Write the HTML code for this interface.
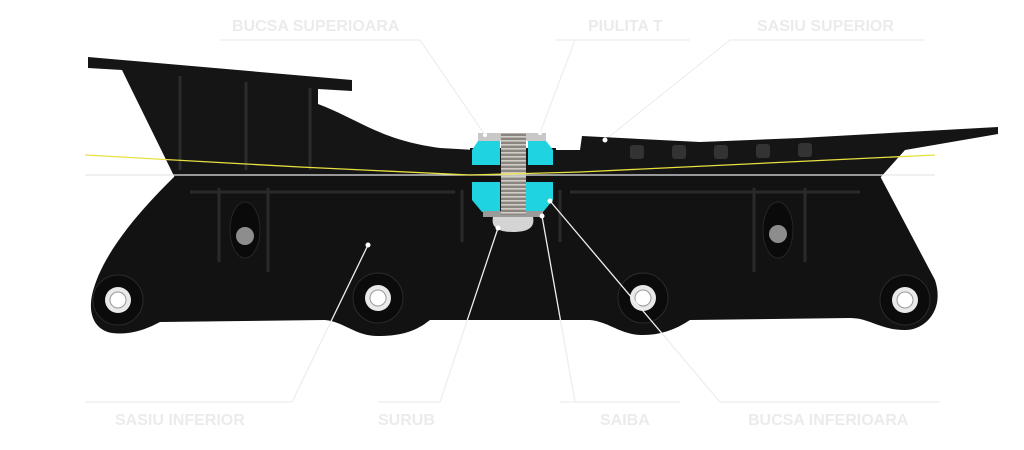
<!DOCTYPE html>
<html><head><meta charset="utf-8"><style>
html,body{margin:0;padding:0;background:#fff;width:1024px;height:450px;overflow:hidden}
svg text{font-family:"Liberation Sans",sans-serif;font-weight:bold;font-size:16px;fill:#ebebeb}
</style></head><body>
<svg width="1024" height="450" viewBox="0 0 1024 450" xmlns="http://www.w3.org/2000/svg">
<defs>
<pattern id="thr" width="6" height="4" patternUnits="userSpaceOnUse">
<rect width="6" height="4" fill="#8a8580"/><rect y="0" width="6" height="1.6" fill="#d0ccc6"/>
</pattern>
</defs>
<g stroke="#eeeeee" stroke-width="1.2" fill="none">
<polyline points="220,40 420,40 485,135"/>
<polyline points="555,40 690,40"/><line x1="575" y1="40" x2="540" y2="133"/>
<polyline points="925,40 730,40 605,140"/>
<polyline points="85,402 292,402"/>
<polyline points="378,402 440,402"/>
<polyline points="560,402 680,402"/>
<polyline points="720,402 940,402"/>
</g>
<g fill="#ebebeb">
<text x="232" y="31">BUCSA SUPERIOARA</text>
<text x="588" y="31">PIULITA T</text>
<text x="757" y="31">SASIU SUPERIOR</text>
<text x="115" y="425">SASIU INFERIOR</text>
<text x="378" y="425">SURUB</text>
<text x="600" y="425">SAIBA</text>
<text x="748" y="425">BUCSA INFERIOARA</text>
</g>
<path d="M88,57 L352,80 L352,91 L318,89 L318,104 C360,120 380,140 440,148 L475,150 L475,178 L175,178 L122,70 L88,68 Z" fill="#151515"/>
<g stroke="#2c2c2c" stroke-width="3"><line x1="180" y1="76" x2="180" y2="170"/><line x1="246" y1="82" x2="246" y2="170"/><line x1="310" y1="88" x2="310" y2="170"/></g>
<path d="M552,150 L580,150 L582,136 L700,142 L800,138 L998,127 L998,134 L905,150 L880,178 L552,178 Z" fill="#151515"/>
<rect x="470" y="148" width="86" height="36" fill="#151515"/>
<g fill="#333"><rect x="630" y="145" width="14" height="14" rx="3"/><rect x="672" y="145" width="14" height="14" rx="3"/><rect x="714" y="145" width="14" height="14" rx="3"/><rect x="756" y="144" width="14" height="14" rx="3"/><rect x="798" y="143" width="14" height="14" rx="3"/></g>
<path d="M175,176 L880,176 L935,280 C945,310 925,330 905,330 C880,330 870,318 850,318 L690,320 C675,330 660,335 643,335 C620,335 610,322 590,320 L430,320 C415,332 400,336 378,336 C355,336 345,322 325,320 L160,322 C145,330 130,335 112,333 C95,330 88,315 92,295 C100,260 130,220 175,176 Z" fill="#121212"/>
<g stroke="#2a2a2a" stroke-width="3" fill="none">
<line x1="190" y1="192" x2="455" y2="192"/><line x1="570" y1="192" x2="860" y2="192"/>
<line x1="219" y1="188" x2="219" y2="262"/><line x1="268" y1="188" x2="268" y2="272"/>
<line x1="462" y1="190" x2="462" y2="242"/><line x1="560" y1="190" x2="560" y2="242"/>
<line x1="754" y1="188" x2="754" y2="272"/><line x1="805" y1="188" x2="805" y2="262"/>
</g>
<ellipse cx="245" cy="230" rx="15" ry="28" fill="#0a0a0a" stroke="#262626"/>
<ellipse cx="778" cy="230" rx="15" ry="28" fill="#0a0a0a" stroke="#262626"/>
<circle cx="245" cy="236" r="9" fill="#8d8d8d"/><circle cx="778" cy="234" r="9" fill="#8d8d8d"/>
<g>
<circle cx="118" cy="300" r="25" fill="#0b0b0b" stroke="#2b2b2b"/><circle cx="118" cy="300" r="13" fill="#e9e9e9"/><circle cx="118" cy="300" r="8" fill="#fff" stroke="#999"/>
<circle cx="378" cy="298" r="25" fill="#0b0b0b" stroke="#2b2b2b"/><circle cx="378" cy="298" r="13" fill="#e9e9e9"/><circle cx="378" cy="298" r="8" fill="#fff" stroke="#999"/>
<circle cx="643" cy="298" r="25" fill="#0b0b0b" stroke="#2b2b2b"/><circle cx="643" cy="298" r="13" fill="#e9e9e9"/><circle cx="643" cy="298" r="8" fill="#fff" stroke="#999"/>
<circle cx="905" cy="300" r="25" fill="#0b0b0b" stroke="#2b2b2b"/><circle cx="905" cy="300" r="13" fill="#e9e9e9"/><circle cx="905" cy="300" r="8" fill="#fff" stroke="#999"/>
</g>
<rect x="478" y="133" width="68" height="8" fill="#c8c8c8"/>
<path d="M472,150 L478,141 L500,141 L500,165 L472,165 Z" fill="#1fd3e0"/>
<path d="M528,141 L546,141 L553,150 L553,165 L528,165 Z" fill="#1fd3e0"/>
<path d="M472,182 L500,182 L500,212 L482,212 L472,200 Z" fill="#1fd3e0"/>
<path d="M526,182 L553,182 L553,200 L543,212 L526,212 Z" fill="#1fd3e0"/>
<rect x="483" y="211" width="60" height="6" fill="#9a9a9a"/>
<rect x="501" y="133" width="25" height="82" fill="url(#thr)"/>
<path d="M493,217 L533,217 C535,226 530,232 513,232 C496,232 491,226 493,217 Z" fill="#d4d4d4"/>
<line x1="85" y1="175" x2="935" y2="175" stroke="#e8e8e8" stroke-width="1.3"/>
<polyline points="85,155 300,167 470,175 580,172 935,155" fill="none" stroke="#e8e040" stroke-width="1.3"/>
<g stroke="#eeeeee" stroke-width="1.3">
<line x1="292" y1="402" x2="368" y2="245"/>
<line x1="440" y1="402" x2="498" y2="228"/>
<line x1="575" y1="402" x2="542" y2="216"/>
<line x1="720" y1="402" x2="550" y2="201"/>
</g>
<g fill="#fff"><circle cx="368" cy="245" r="2.5"/><circle cx="498" cy="228" r="2.5"/><circle cx="542" cy="216" r="2.5"/><circle cx="550" cy="201" r="2.5"/><circle cx="605" cy="140" r="2.5"/><circle cx="485" cy="135" r="2"/><circle cx="540" cy="133" r="2"/></g>
</svg>
</body></html>
